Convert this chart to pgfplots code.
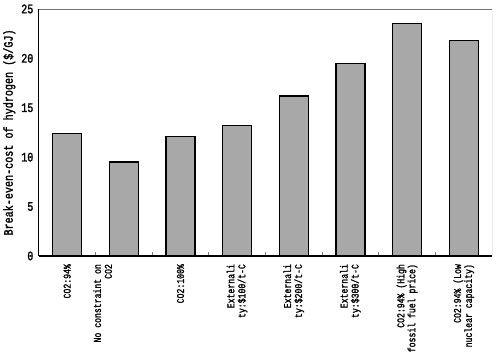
\documentclass[border=0pt]{standalone}
\usepackage{pgfplots}
\pgfplotsset{compat=1.18}
\usepackage{fontspec}
\setmainfont{Liberation Serif}
\newfontfamily\lblfont[FakeStretch=0.78, FakeBold=1.6]{Liberation Mono}
\begin{document}
\begin{tikzpicture}
\begin{axis}[
  scale only axis,
  width=455pt, height=248pt,
  xmin=-0.5, xmax=7.5,
  ymin=0, ymax=25,
  ybar, bar width=29pt,
  axis x line*=bottom, axis y line*=left,
  axis line style={line width=1.2pt, -},
  xtick={0,...,7},
  xticklabels={
    {CO2:94\%},
    {\raisebox{17pt}[0pt][0pt]{\begin{tabular}{@{}r@{}}No constraint on\\CO2\end{tabular}}},
    {CO2:100\%},
    {Externali\\ty:\$100/t-C},
    {Externali\\ty:\$200/t-C},
    {Externali\\ty:\$300/t-C},
    {CO2:94\% (High\\fossil fuel price)},
    {CO2:94\% (Low\\nuclear capacity)}},
  xticklabel style={rotate=90, anchor=east, align=right, font=\lblfont\fontsize{10.5}{11}\selectfont, inner sep=1pt},
  xticklabel shift=7pt,
  major x tick style={draw=none},
  minor xtick={0.5,1.5,...,6.5},
  minor tick length=3.5pt,
  minor tick style={line width=1pt},
  tick align=inside,
  ytick={0,5,...,25},
  major y tick style={draw=none},
  yticklabel style={font=\lblfont\fontsize{13}{13}\selectfont, xshift=-2pt},
  /pgf/number format/assume math mode=true,
  ylabel={Break-even-cost of hydrogen (\$/GJ)},
  ylabel style={font=\lblfont\fontsize{13}{13}\selectfont, yshift=-1pt},
]
\addplot[fill=gray!68, draw=black, line width=1.3pt] coordinates {
(0,12.4) (1,9.5) (2,12.1) (3,13.2) (4,16.2) (5,19.5) (6,23.55) (7,21.8)};
\draw[black!55, line width=0.8pt] (rel axis cs:0,1) -- (rel axis cs:1,1) -- (rel axis cs:1,0);
\end{axis}
\path (current axis.south west) ++(-37pt,-108pt) rectangle ([xshift=8pt,yshift=9pt]current axis.north east);
\end{tikzpicture}
\end{document}
